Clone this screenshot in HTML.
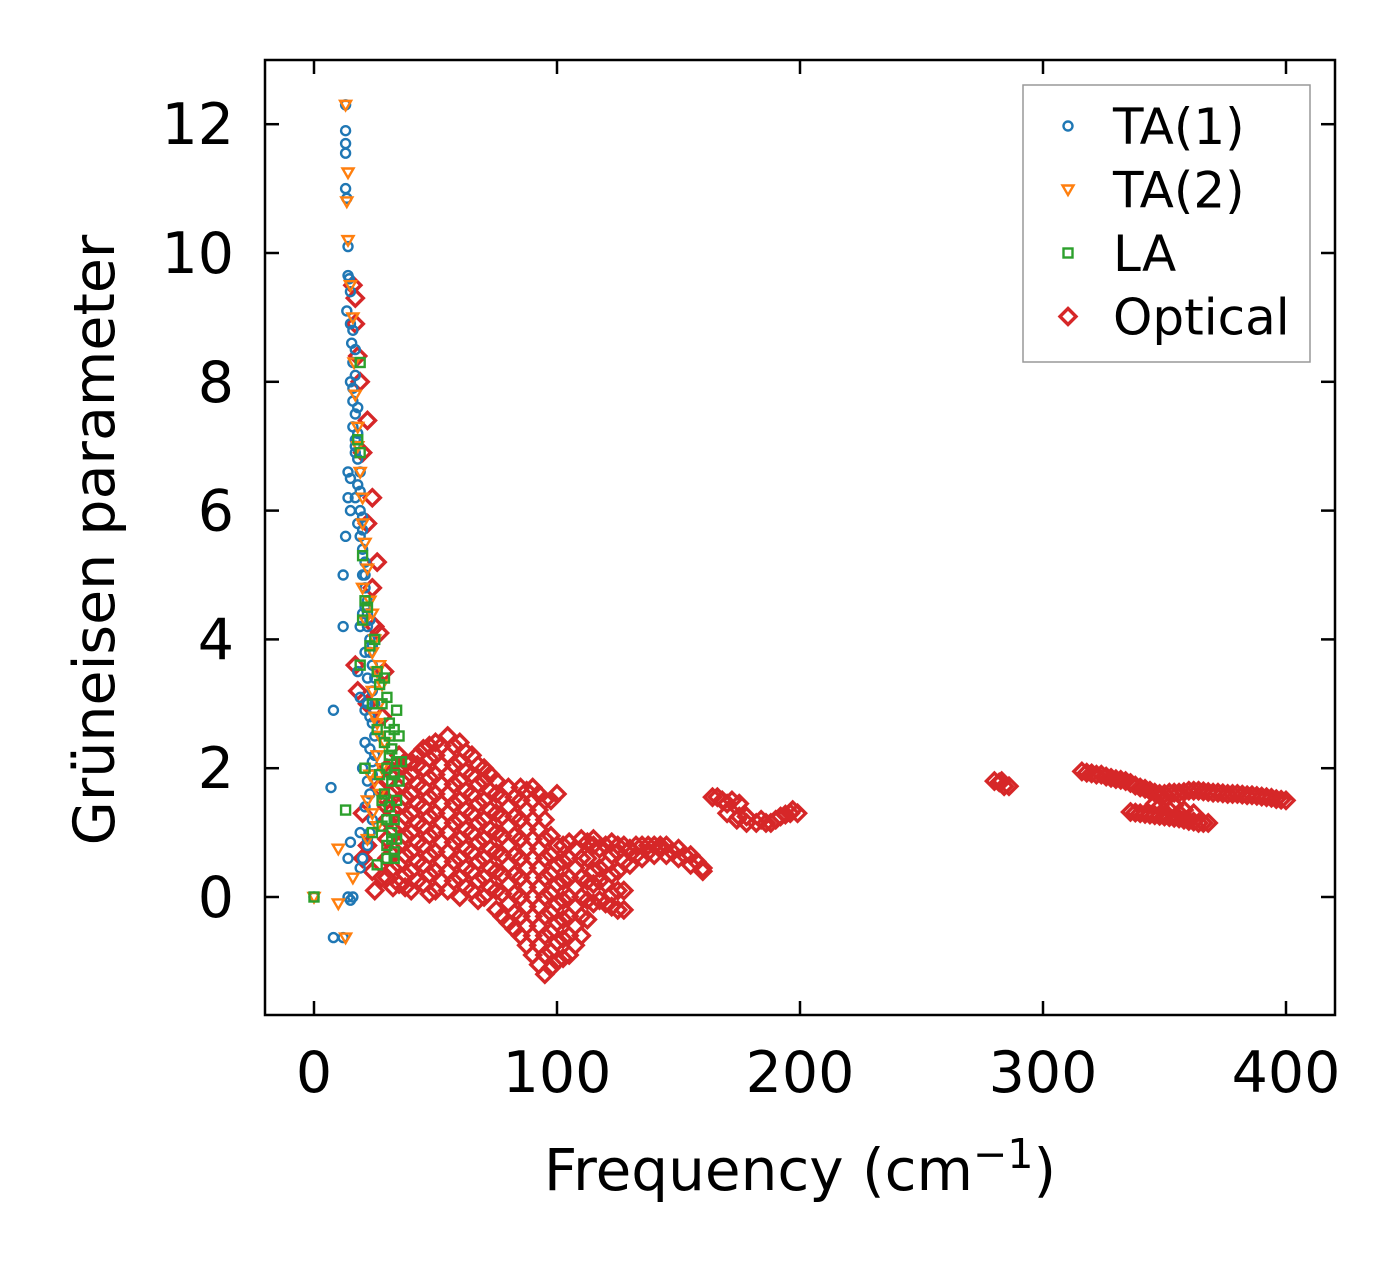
<!DOCTYPE html>
<html><head><meta charset="utf-8"><style>
html,body{margin:0;padding:0;background:#fff}
svg{display:block}
text{font-family:"DejaVu Sans","Liberation Sans",sans-serif;fill:#000}
</style></head><body>
<svg id="chart" width="1400" height="1264" viewBox="0 0 1400 1264" xmlns="http://www.w3.org/2000/svg">
<rect x="0" y="0" width="1400" height="1264" fill="#fff"/>
<g id="marks"></g>
<g id="axes"></g>
<g id="legend"></g>
</svg>
<script>
const xTicks = [0, 100, 200, 300, 400];
const yTicks = [0, 2, 4, 6, 8, 10, 12];
const seriesNames = ["TA(1)", "TA(2)", "LA", "Optical"];

const ta1Data = [[13,12.3],[13,11.9],[13,11.7],[13,11.55],[13,11.0],[13.5,10.85],[14,10.1],[14,9.65],[14.5,9.6],[15,9.4],[13.5,9.1],[15,8.9],[15.5,8.6],[16,8.3],[15,8.0],[16,7.7],[17,7.5],[16,7.3],[17,7.1],[17,6.9],[14,6.6],[15,6.5],[18,6.4],[14,6.2],[17,6.2],[19,6.0],[15,6.0],[18,5.8],[19,5.6],[13,5.6],[20,5.4],[21,5.2],[20,5.0],[12,5.0],[21,4.8],[22,4.6],[20,4.4],[22,4.2],[12,4.2],[23,4.0],[21,3.8],[24,3.6],[22,3.4],[24,3.2],[25,3.0],[21,2.9],[8,2.9],[24,2.7],[25,2.5],[23,2.3],[24,2.1],[20,2.0],[22,1.8],[7,1.7],[23,1.6],[21,1.4],[24,1.2],[19,1.0],[22,0.9],[15,0.85],[20,0.6],[14,0.6],[19,0.45],[14,0],[16,0],[15,-0.05],[0,0],[8,-0.63],[12,-0.63],[19,4.2],[18,3.5],[19,3.1],[21,2.4],[22,0.8],[16,7.9],[17,7.0],[18,6.8],[20,5.9],[21,4.5],[23,3.8],[22,3.0],
[16,8.8],[17,8.5],[17,8.1],[18,7.6],[18,7.2],[19,6.6],[19,6.3],[20,5.7],[21,5.0],[22,4.4],[23,4.3],[24,3.9],[25,3.4],[23,2.8],[25,2.2],[23,1.0],[24,1.9]];
const ta2Data = [[13,12.3],[14,11.25],[13.5,10.8],[14,10.2],[15,9.5],[16,9.0],[16.5,8.3],[17,7.8],[18,7.3],[18,7.0],[19,6.6],[20,6.2],[20,5.8],[21,5.5],[22,5.1],[20,4.8],[23,4.6],[21,4.3],[25,4.0],[24,3.8],[26,3.5],[24,3.2],[27,3.0],[25,2.8],[27,2.5],[26,2.2],[28,2.0],[25,1.8],[27,1.6],[24,1.3],[26,1.1],[22,0.9],[10,0.75],[16,0.3],[10,-0.1],[13,-0.63],[0,0],[29,2.4],[28,3.3],[22,1.5],[23,1.9],[26,2.7],[27,3.6],[24,4.4]];
const laData = [[18,7.1],[19,6.9],[19,8.3],[20,5.3],[21,4.6],[20,4.3],[22,4.5],[19,3.6],[23,3.9],[25,4.0],[26,3.5],[27,3.3],[28,3.0],[30,3.1],[31,2.7],[33,2.6],[29,2.4],[31,2.2],[34,2.1],[36,2.1],[30,2.0],[21,2.0],[27,1.9],[32,1.8],[29,1.6],[31,1.4],[33,1.2],[28,1.1],[32,0.9],[30,0.8],[33,0.7],[26,0.5],[13,1.35],[0,0],[24,1.0],[35,2.5],
[30,0.6],[32,1.0],[34,1.5],[33,1.9],[31,2.5],[34,2.9],[29,3.4],[32,2.3],[30,1.2],[28,1.5],[26,2.6],[24,3.0],[34,0.9],[33,0.6],[35,1.8]];
const opticalData = [
[16,9.5],[17,9.3],[17,8.9],[18,8.4],[19,8.0],[22,7.4],[20,6.9],[24,6.2],[22,5.8],[26,5.2],[24,4.8],[25,4.2],[27,4.1],[17,3.6],[29,3.5],[18,3.2],[22,3.0],[28,2.8],[20,1.3],[22,0.8],[24,0.4],[25,0.1],[28,0.3],[20,0.6],[27,1.7],[30,1.4],
[30,0.3],[30,0.6],[30,0.9],[30,1.2],[30,1.5],[30,1.8],[30,2.0],
[35,0.2],[35,0.5],[35,0.8],[35,1.1],[35,1.4],[35,1.7],[35,2.0],[35,2.2],
[40,0.1],[40,0.4],[40,0.7],[40,1.0],[40,1.3],[40,1.6],[40,1.9],[40,2.1],
[45,0.2],[45,0.5],[45,0.8],[45,1.1],[45,1.4],[45,1.7],[45,2.0],[45,2.3],
[50,0.1],[50,0.4],[50,0.7],[50,1.0],[50,1.3],[50,1.6],[50,1.9],[50,2.2],[50,2.4],
[55,0.1],[55,0.4],[55,0.7],[55,1.0],[55,1.3],[55,1.6],[55,1.9],[55,2.2],[55,2.5],
[60,0.0],[60,0.3],[60,0.6],[60,0.9],[60,1.2],[60,1.5],[60,1.8],[60,2.1],[60,2.4],
[65,0.1],[65,0.4],[65,0.7],[65,1.0],[65,1.3],[65,1.6],[65,1.9],[65,2.2],
[70,0.0],[70,0.3],[70,0.6],[70,0.9],[70,1.2],[70,1.5],[70,1.8],[70,2.0],
[75,-0.2],[75,0.1],[75,0.4],[75,0.7],[75,1.0],[75,1.3],[75,1.6],[75,1.8],
[80,-0.4],[80,-0.1],[80,0.2],[80,0.5],[80,0.8],[80,1.1],[80,1.4],[80,1.7],
[85,-0.6],[85,-0.3],[85,0.0],[85,0.3],[85,0.6],[85,0.9],[85,1.2],[85,1.5],[85,1.7],
[90,-0.9],[90,-0.6],[90,-0.3],[90,0.0],[90,0.3],[90,0.6],[90,0.9],[90,1.2],[90,1.5],[90,1.7],
[95,-1.2],[95,-0.9],[95,-0.6],[95,-0.3],[95,0.0],[95,0.3],[95,0.6],[95,0.9],[95,1.2],[95,1.5],
[100,-1.0],[100,-0.7],[100,-0.4],[100,-0.1],[100,0.2],[100,0.5],[100,0.8],[100,1.6],
[105,-0.9],[105,-0.6],[105,-0.3],[105,0.0],[105,0.3],[105,0.6],[105,0.85],
[110,-0.6],[110,-0.3],[110,0.0],[110,0.3],[110,0.6],[110,0.9],
[115,-0.1],[115,0.2],[115,0.4],[115,0.8],[115,0.9],
[120,-0.1],[120,0.2],[120,0.5],[120,0.8],
[125,-0.2],[125,0.1],[125,0.4],[125,0.7],[125,0.8],
[130,0.5],[130,0.75],[135,0.6],[135,0.8],[140,0.65],[140,0.8],[145,0.65],[145,0.8],[150,0.6],[150,0.75],[155,0.5],[155,0.65],[160,0.4],[160,0.45],
[32.5,0.15],[32.5,0.45],[32.5,0.75],[32.5,1.05],[32.5,1.35],[32.5,1.65],[32.5,1.95],
[37.5,0.15],[37.5,0.35],[37.5,0.65],[37.5,0.95],[37.5,1.25],[37.5,1.55],[37.5,1.85],[37.5,2.1],
[42.5,0.25],[42.5,0.55],[42.5,0.85],[42.5,1.15],[42.5,1.45],[42.5,1.75],[42.5,2.05],[42.5,2.2],
[47.5,0.05],[47.5,0.35],[47.5,0.65],[47.5,0.95],[47.5,1.25],[47.5,1.55],[47.5,1.85],[47.5,2.15],[47.5,2.35],
[52.5,0.25],[52.5,0.55],[52.5,0.85],[52.5,1.15],[52.5,1.45],[52.5,1.75],[52.5,2.05],[52.5,2.35],
[57.5,0.25],[57.5,0.55],[57.5,0.85],[57.5,1.15],[57.5,1.45],[57.5,1.75],[57.5,2.05],[57.5,2.35],
[62.5,0.15],[62.5,0.45],[62.5,0.75],[62.5,1.05],[62.5,1.35],[62.5,1.65],[62.5,1.95],[62.5,2.25],
[67.5,-0.05],[67.5,0.25],[67.5,0.55],[67.5,0.85],[67.5,1.15],[67.5,1.45],[67.5,1.75],[67.5,2.05],
[72.5,0.15],[72.5,0.45],[72.5,0.75],[72.5,1.05],[72.5,1.35],[72.5,1.65],[72.5,1.9],
[77.5,-0.3],[77.5,0.05],[77.5,0.35],[77.5,0.65],[77.5,0.95],[77.5,1.25],[77.5,1.55],
[82.5,-0.5],[82.5,-0.25],[82.5,0.05],[82.5,0.35],[82.5,0.65],[82.5,0.95],[82.5,1.25],[82.5,1.55],
[87.5,-0.75],[87.5,-0.45],[87.5,-0.15],[87.5,0.15],[87.5,0.45],[87.5,0.75],[87.5,1.05],[87.5,1.35],[87.5,1.65],
[92.5,-1.05],[92.5,-0.75],[92.5,-0.45],[92.5,-0.15],[92.5,0.15],[92.5,0.45],[92.5,0.75],[92.5,1.05],[92.5,1.35],[92.5,1.6],
[97.5,-1.1],[97.5,-0.85],[97.5,-0.55],[97.5,-0.25],[97.5,0.05],[97.5,0.35],[97.5,0.65],[97.5,0.95],[97.5,1.5],
[102.5,-0.95],[102.5,-0.65],[102.5,-0.35],[102.5,-0.05],[102.5,0.25],[102.5,0.55],[102.5,0.8],
[107.5,-0.75],[107.5,-0.45],[107.5,-0.15],[107.5,0.15],[107.5,0.45],[107.5,0.75],
[112.5,-0.35],[112.5,-0.05],[112.5,0.25],[112.5,0.6],[112.5,0.85],
[117.5,-0.05],[117.5,0.25],[117.5,0.45],[117.5,0.75],
[122.5,-0.15],[122.5,0.05],[122.5,0.35],[122.5,0.65],[122.5,0.85],
[127.5,-0.2],[127.5,0.1],[127.5,0.55],[127.5,0.8],
[132.5,0.65],[132.5,0.8],[137.5,0.7],[137.5,0.8],[142.5,0.75],[142.5,0.8],[147.5,0.7],[152.5,0.65],[157.5,0.55],
[164,1.55],[168,1.5],[172,1.5],[175,1.45],[170,1.3],[174,1.2],[178,1.15],[182,1.15],[186,1.15],[190,1.2],[194,1.28],[197,1.35],[199,1.3],[175,1.25],
[166,1.55],[170,1.45],[178,1.25],[184,1.2],[188,1.15],[192,1.25],[196,1.3],
[280,1.8],[282,1.78],[284,1.72],[286,1.72],[283,1.8],
[316,1.95],[320,1.92],[324,1.9],[328,1.85],[332,1.82],[336,1.77],[340,1.7],[344,1.65],[348,1.6],[352,1.62],[356,1.62],[360,1.65],[364,1.65],[368,1.63],[372,1.62],[376,1.6],[380,1.6],[384,1.58],[388,1.57],[392,1.55],[396,1.52],[400,1.5],
[318,1.93],[322,1.9],[326,1.87],[330,1.83],[334,1.8],[338,1.73],[342,1.68],[346,1.62],[350,1.6],[354,1.62],[358,1.63],[362,1.65],[366,1.64],[370,1.62],[374,1.61],[378,1.6],[382,1.59],[386,1.58],[390,1.56],[394,1.54],[398,1.51],
[336,1.32],[340,1.3],[344,1.28],[348,1.26],[352,1.24],[356,1.22],[360,1.18],[364,1.15],[368,1.15],[346,1.45],[350,1.5],[354,1.42],[358,1.35],[362,1.3],
[338,1.31],[342,1.29],[346,1.27],[350,1.25],[354,1.23],[358,1.2],[362,1.17],[366,1.15],[348,1.4],[352,1.35],[356,1.3]
];

const NS = "http://www.w3.org/2000/svg";
const L = 265, R = 1335, T = 60, B = 1015;
const xScale = f => 314 + f * 2.43;
const yScale = g => 897 - g * 64.4;
const colors = ["#1f77b4", "#ff7f0e", "#2ca02c", "#d62728"];

function mk(tag, attrs, parent) {
  const e = document.createElementNS(NS, tag);
  for (const k in attrs) e.setAttribute(k, attrs[k]);
  parent.appendChild(e);
  return e;
}
function marker(kind, cx, cy, color, parent) {
  let e;
  if (kind === 0) e = mk("circle", {cx: cx, cy: cy, r: 4.5, fill: "none", stroke: color, "stroke-width": 2.4}, parent);
  else if (kind === 1) e = mk("polygon", {points: `${cx-5.5},${cy-4} ${cx+5.5},${cy-4} ${cx},${cy+5.5}`, fill: "none", stroke: color, "stroke-width": 2.4}, parent);
  else if (kind === 2) e = mk("rect", {x: cx-4.5, y: cy-4.5, width: 9, height: 9, fill: "none", stroke: color, "stroke-width": 2.4}, parent);
  else e = mk("polygon", {points: `${cx},${cy-8} ${cx+8},${cy} ${cx},${cy+8} ${cx-8},${cy}`, fill: "none", stroke: color, "stroke-width": 3.4}, parent);
  return e;
}

const marks = document.getElementById("marks");
const allSeries = [ta1Data, ta2Data, laData, opticalData];
const seriesKeys = ["ta1", "ta2", "la", "optical"];
[3, 0, 1, 2].forEach(s => {
  const g = mk("g", {}, marks);
  
  
  allSeries[s].forEach(p => {
    const m = marker(s, xScale(p[0]), yScale(p[1]), colors[s], g);
    
    
  });
});

const axes = document.getElementById("axes");
const frame = mk("rect", {x: L, y: T, width: R-L, height: B-T, fill: "none", stroke: "#000", "stroke-width": 2.5}, axes);


xTicks.forEach(v => {
  const x = xScale(v);
  mk("line", {x1: x, y1: B, x2: x, y2: B-14, stroke: "#000", "stroke-width": 2.5}, axes);
  mk("line", {x1: x, y1: T, x2: x, y2: T+14, stroke: "#000", "stroke-width": 2.5}, axes);
  const t = mk("text", {x: x, y: 1092, "font-size": 57, "text-anchor": "middle"}, axes);
  t.textContent = v;
  
  
});
yTicks.forEach(v => {
  const y = yScale(v);
  mk("line", {x1: L, y1: y, x2: L+14, y2: y, stroke: "#000", "stroke-width": 2.5}, axes);
  mk("line", {x1: R, y1: y, x2: R-14, y2: y, stroke: "#000", "stroke-width": 2.5}, axes);
  const t = mk("text", {x: 234, y: y + 20, "font-size": 57, "text-anchor": "end"}, axes);
  t.textContent = v;
  
  
});
const xl = mk("text", {x: 800, y: 1190, "font-size": 58, "text-anchor": "middle"}, axes);
xl.innerHTML = 'Frequency (cm<tspan dy="-22" font-size="41">−1</tspan><tspan dy="22">)</tspan>';


const yl = mk("text", {x: 0, y: 0, "font-size": 57, "text-anchor": "middle", transform: "translate(114,540) rotate(-90)"}, axes);
yl.textContent = "Grüneisen parameter";



const legend = document.getElementById("legend");
const lb = mk("rect", {x: 1023, y: 85, width: 287, height: 277, fill: "#fff", stroke: "#999", "stroke-width": 1.5}, legend);


seriesNames.forEach((n, i) => {
  const y = 126 + i * 63.5;
  const g = mk("g", {}, legend);
  
  
  marker(i, 1068, y, colors[i], g);
  const t = mk("text", {x: 1113, y: y + 18, "font-size": 50}, g);
  t.textContent = n;
});
</script>
</body></html>
